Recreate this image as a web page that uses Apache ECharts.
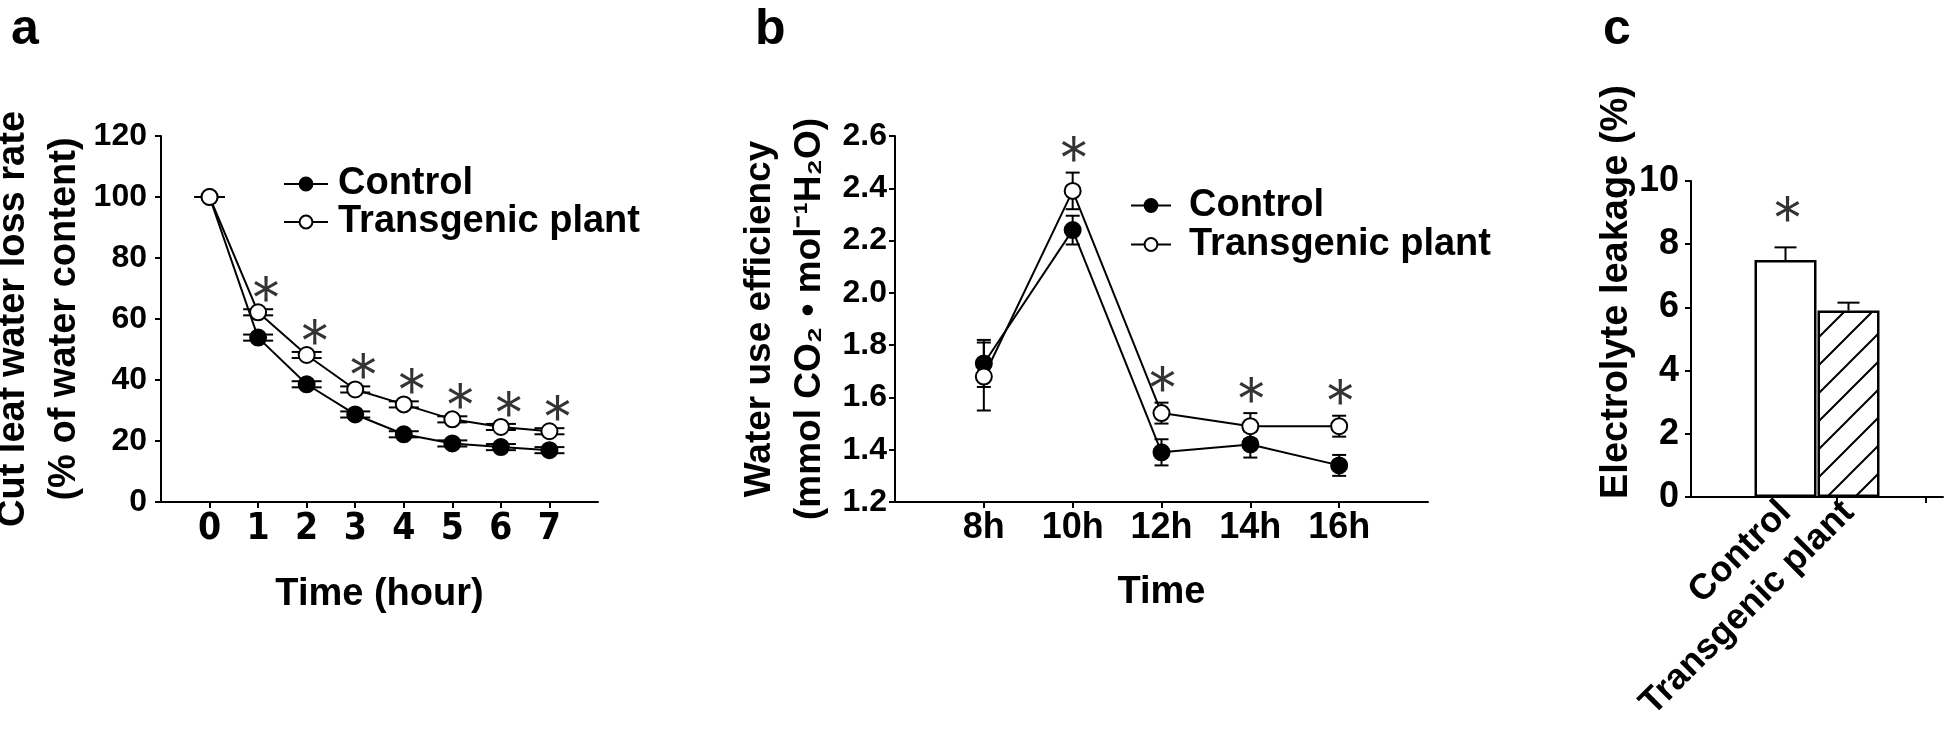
<!DOCTYPE html>
<html>
<head>
<meta charset="utf-8">
<script src="https://cdn.jsdelivr.net/npm/echarts@6/dist/echarts.min.js"></script>
<style>
html,body{margin:0;padding:0;background:#fff;}
#chart{width:1946px;height:736px;}
</style>
</head>
<body>
<div id="chart"></div>
<script>
// ---------- Panel a : cut leaf water loss ----------
const hoursA = [0, 1, 2, 3, 4, 5, 6, 7];
const controlA = [100, 53.9, 38.6, 28.7, 22.2, 19.2, 18.0, 17.0];
const transA = [100, 62.2, 48.2, 36.9, 32.0, 27.1, 24.6, 23.2];
const controlAErr = [0, 1, 1, 1, 1, 1, 1, 1];
const transAErr = [0, 1, 1, 1, 1, 1, 1, 1];
const sigHoursA = [1, 2, 3, 4, 5, 6, 7];

// ---------- Panel b : water use efficiency ----------
const timesB = [8, 10, 12, 14, 16];
const timeLabelsB = ['8h', '10h', '12h', '14h', '16h'];
const controlB = [1.73, 2.24, 1.39, 1.42, 1.34];
const controlBErr = [0.09, 0.055, 0.05, 0.05, 0.04];
const transB = [1.68, 2.39, 1.54, 1.49, 1.49];
const transBErr = [0.13, 0.07, 0.04, 0.05, 0.04];
const sigTimesB = [10, 12, 14, 16];

// ---------- Panel c : electrolyte leakage ----------
const catsC = ['Control', 'Transgenic plant'];
const valuesC = [7.5, 5.9];
const errC = [0.4, 0.25];
const sigCatsC = ['Control'];

const F = "'Liberation Sans', Arial, Helvetica, sans-serif";
const NARROW = "'Liberation Sans Narrow', 'Arial Narrow', 'DejaVu Sans Condensed', 'Liberation Sans', sans-serif";
const STAR_FONT = "Inter, 'Open Sans', 'Liberation Sans', sans-serif";

function hatchPattern() {
  const s = 28;
  const c = document.createElement('canvas');
  c.width = s; c.height = s;
  const ctx = c.getContext('2d');
  ctx.fillStyle = '#fff';
  ctx.fillRect(0, 0, s, s);
  ctx.strokeStyle = '#000';
  ctx.lineWidth = 2;
  ctx.beginPath();
  ctx.moveTo(-2, s + 2); ctx.lineTo(s + 2, -2);
  ctx.moveTo(-4, 4); ctx.lineTo(4, -4);
  ctx.moveTo(s - 4, s + 4); ctx.lineTo(s + 4, s - 4);
  ctx.stroke();
  return { image: c, repeat: 'repeat' };
}

function errRender(capW, upOnly) {
  return function (params, api) {
    const x = api.value(0), y = api.value(1), e = api.value(2);
    const top = api.coord([x, y + e]);
    const bot = api.coord([x, upOnly ? y : y - e]);
    const hw = capW / 2;
    const st = { stroke: '#000', lineWidth: 2 };
    const children = [
      { type: 'line', shape: { x1: top[0], y1: top[1], x2: bot[0], y2: bot[1] }, style: st },
      { type: 'line', shape: { x1: top[0] - hw, y1: top[1], x2: top[0] + hw, y2: top[1] }, style: st }
    ];
    if (!upOnly) {
      children.push({ type: 'line', shape: { x1: bot[0] - hw, y1: bot[1], x2: bot[0] + hw, y2: bot[1] }, style: st });
    }
    return { type: 'group', children: children };
  };
}

const axisLineStyle = { color: '#000', width: 2 };
function boldText(size, extra) {
  return Object.assign({ fontFamily: F, fontWeight: 'bold', fontSize: size, color: '#000' }, extra || {});
}
function starLabel(offset) {
  return {
    show: true, formatter: '*', position: 'inside', offset: offset,
    fontFamily: STAR_FONT, fontWeight: 300, fontSize: 62, color: '#000'
  };
}
const lineCommon = { type: 'line', symbol: 'circle', lineStyle: { color: '#000', width: 2 }, z: 3 };
const ctrlItem = { color: '#000', borderColor: '#000', borderWidth: 2 };
const transItem = { color: '#fff', borderColor: '#000', borderWidth: 2 };

const option = {
  animation: false,
  backgroundColor: '#fff',
  title: [
    { text: 'a', left: 6, top: 0, textStyle: boldText(50) },
    { text: 'b', left: 750, top: 0, textStyle: boldText(50) },
    { text: 'c', left: 1598, top: 0, textStyle: boldText(50) }
  ],
  legend: [
    {
      data: ['Control', 'Transgenic plant'], orient: 'vertical', left: 278, top: 160,
      itemWidth: 44, itemHeight: 16, itemGap: 0,
      textStyle: boldText(38, { lineHeight: 36, padding: [0, 0, 0, 5] })
    },
    {
      data: ['Control', 'Transgenic plant'], orient: 'vertical', left: 1125, top: 181,
      itemWidth: 40, itemHeight: 16, itemGap: 0,
      textStyle: boldText(38, { lineHeight: 39, padding: [0, 0, 0, 13] })
    }
  ],
  grid: [
    { left: 161, top: 136, width: 437, height: 366, outerBoundsMode: 'none' },
    { left: 895, top: 136, width: 533, height: 366, outerBoundsMode: 'none' },
    { left: 1691, top: 181, width: 252, height: 316, outerBoundsMode: 'none' }
  ],
  xAxis: [
    {
      gridIndex: 0, type: 'value', min: -1, max: 8,
      axisLine: { show: true, onZero: false, lineStyle: axisLineStyle },
      axisTick: { show: true, customValues: hoursA, length: 6, lineStyle: axisLineStyle },
      axisLabel: Object.assign(boldText(37, { fontFamily: NARROW }), { customValues: hoursA, margin: 9 }),
      splitLine: { show: false },
      name: 'Time (hour)', nameLocation: 'middle', nameGap: 74, nameTextStyle: boldText(38)
    },
    {
      gridIndex: 1, type: 'value', min: 6, max: 18,
      axisLine: { show: true, onZero: false, lineStyle: axisLineStyle },
      axisTick: { show: true, customValues: timesB, length: 6, lineStyle: axisLineStyle },
      axisLabel: Object.assign(boldText(36), {
        customValues: timesB, margin: 8,
        formatter: function (v) { return timeLabelsB[timesB.indexOf(v)]; }
      }),
      splitLine: { show: false },
      name: 'Time', nameLocation: 'middle', nameGap: 72, nameTextStyle: boldText(38)
    },
    {
      gridIndex: 2, type: 'value', min: 0, max: 4,
      axisLine: { show: true, onZero: false, lineStyle: axisLineStyle },
      axisTick: { show: true, customValues: [2.32, 3.73], length: 6, lineStyle: axisLineStyle },
      axisLabel: Object.assign(boldText(36), {
        customValues: catsC.map(function (c, i) { return i + 1.5; }), margin: 10, rotate: 45,
        formatter: function (v) { return catsC[Math.round(v - 1.5)]; }
      }),
      splitLine: { show: false }
    }
  ],
  yAxis: [
    {
      gridIndex: 0, type: 'value', min: 0, max: 120, interval: 20,
      axisLine: { show: true, onZero: false, lineStyle: axisLineStyle },
      axisTick: { show: true, length: 6, lineStyle: axisLineStyle },
      axisLabel: Object.assign(boldText(32), { margin: 14 }),
      splitLine: { show: false },
      name: 'Cut leaf water loss rate\n(% of water content)', nameLocation: 'middle', nameGap: 66,
      nameTextStyle: boldText(38, { lineHeight: 51 })
    },
    {
      gridIndex: 1, type: 'value', min: 1.2, max: 2.6, interval: 0.2,
      axisLine: { show: true, onZero: false, lineStyle: axisLineStyle },
      axisTick: { show: true, length: 6, lineStyle: axisLineStyle },
      axisLabel: Object.assign(boldText(32), { margin: 8, formatter: function (v) { return v.toFixed(1); } }),
      splitLine: { show: false },
      name: 'Water use efficiency\n(mmol CO\u2082 \u2022 mol\u207B\u00B9H\u2082O)', nameLocation: 'middle', nameGap: 60,
      nameTextStyle: boldText(37, { lineHeight: 50 })
    },
    {
      gridIndex: 2, type: 'value', min: 0, max: 10, interval: 2,
      axisLine: { show: true, onZero: false, lineStyle: axisLineStyle },
      axisTick: { show: true, length: 6, lineStyle: axisLineStyle },
      axisLabel: Object.assign(boldText(36), { margin: 12 }),
      splitLine: { show: false },
      name: 'Electrolyte leakage (%)', nameLocation: 'middle', nameGap: 50,
      nameTextStyle: boldText(38, { padding: [0, 0, 0, 94] })
    }
  ],
  series: [
    // Panel a
    {
      type: 'custom', xAxisIndex: 0, yAxisIndex: 0, z: 2, silent: true,
      renderItem: errRender(30, false),
      data: hoursA.map(function (h, i) { return [h, controlA[i], controlAErr[i]]; })
    },
    {
      type: 'custom', xAxisIndex: 0, yAxisIndex: 0, z: 2, silent: true,
      renderItem: errRender(30, false),
      data: hoursA.map(function (h, i) { return [h, transA[i], transAErr[i]]; })
    },
    Object.assign({}, lineCommon, {
      name: 'Control', xAxisIndex: 0, yAxisIndex: 0, symbolSize: 16, itemStyle: ctrlItem,
      data: hoursA.map(function (h, i) { return [h, controlA[i]]; })
    }),
    Object.assign({}, lineCommon, {
      name: 'Transgenic plant', xAxisIndex: 0, yAxisIndex: 0, symbolSize: 16, itemStyle: transItem,
      data: hoursA.map(function (h, i) { return [h, transA[i]]; })
    }),
    {
      type: 'scatter', xAxisIndex: 0, yAxisIndex: 0, symbolSize: 1, itemStyle: { color: 'rgba(0,0,0,0)' },
      label: starLabel([8, -10]), z: 4,
      data: sigHoursA.map(function (h) { return [h, transA[hoursA.indexOf(h)]]; })
    },
    // Panel b
    {
      type: 'custom', xAxisIndex: 1, yAxisIndex: 1, z: 2, silent: true,
      renderItem: errRender(14, false),
      data: timesB.map(function (t, i) { return [t, controlB[i], controlBErr[i]]; })
    },
    {
      type: 'custom', xAxisIndex: 1, yAxisIndex: 1, z: 2, silent: true,
      renderItem: errRender(14, false),
      data: timesB.map(function (t, i) { return [t, transB[i], transBErr[i]]; })
    },
    Object.assign({}, lineCommon, {
      name: 'Control', xAxisIndex: 1, yAxisIndex: 1, symbolSize: 16, itemStyle: ctrlItem,
      data: timesB.map(function (t, i) { return [t, controlB[i]]; })
    }),
    Object.assign({}, lineCommon, {
      name: 'Transgenic plant', xAxisIndex: 1, yAxisIndex: 1, symbolSize: 16, itemStyle: transItem,
      data: timesB.map(function (t, i) { return [t, transB[i]]; })
    }),
    {
      type: 'scatter', xAxisIndex: 1, yAxisIndex: 1, symbolSize: 1, itemStyle: { color: 'rgba(0,0,0,0)' },
      label: starLabel([1, -10]), z: 4,
      data: sigTimesB.map(function (t) { const i = timesB.indexOf(t); return [t, transB[i] + transBErr[i]]; })
    },
    // Panel c
    {
      type: 'bar', xAxisIndex: 2, yAxisIndex: 2, barWidth: 62, z: 2,
      itemStyle: { borderColor: '#000', borderWidth: 2.5 },
      data: catsC.map(function (c, i) {
        return { value: [i + 1.5, valuesC[i]], itemStyle: { color: i === 0 ? '#fff' : hatchPattern() } };
      })
    },
    {
      type: 'custom', xAxisIndex: 2, yAxisIndex: 2, z: 3, silent: true,
      renderItem: errRender(22, true),
      data: catsC.map(function (c, i) { return [i + 1.5, valuesC[i], errC[i]]; })
    },
    {
      type: 'scatter', xAxisIndex: 2, yAxisIndex: 2, symbolSize: 1, itemStyle: { color: 'rgba(0,0,0,0)' },
      label: starLabel([2, -25]), z: 4,
      data: sigCatsC.map(function (c) { const i = catsC.indexOf(c); return [i + 1.5, valuesC[i] + errC[i]]; })
    }
  ]
};

const chart = echarts.init(document.getElementById('chart'), null, { renderer: 'canvas' });
chart.setOption(option);
</script>
</body>
</html>
